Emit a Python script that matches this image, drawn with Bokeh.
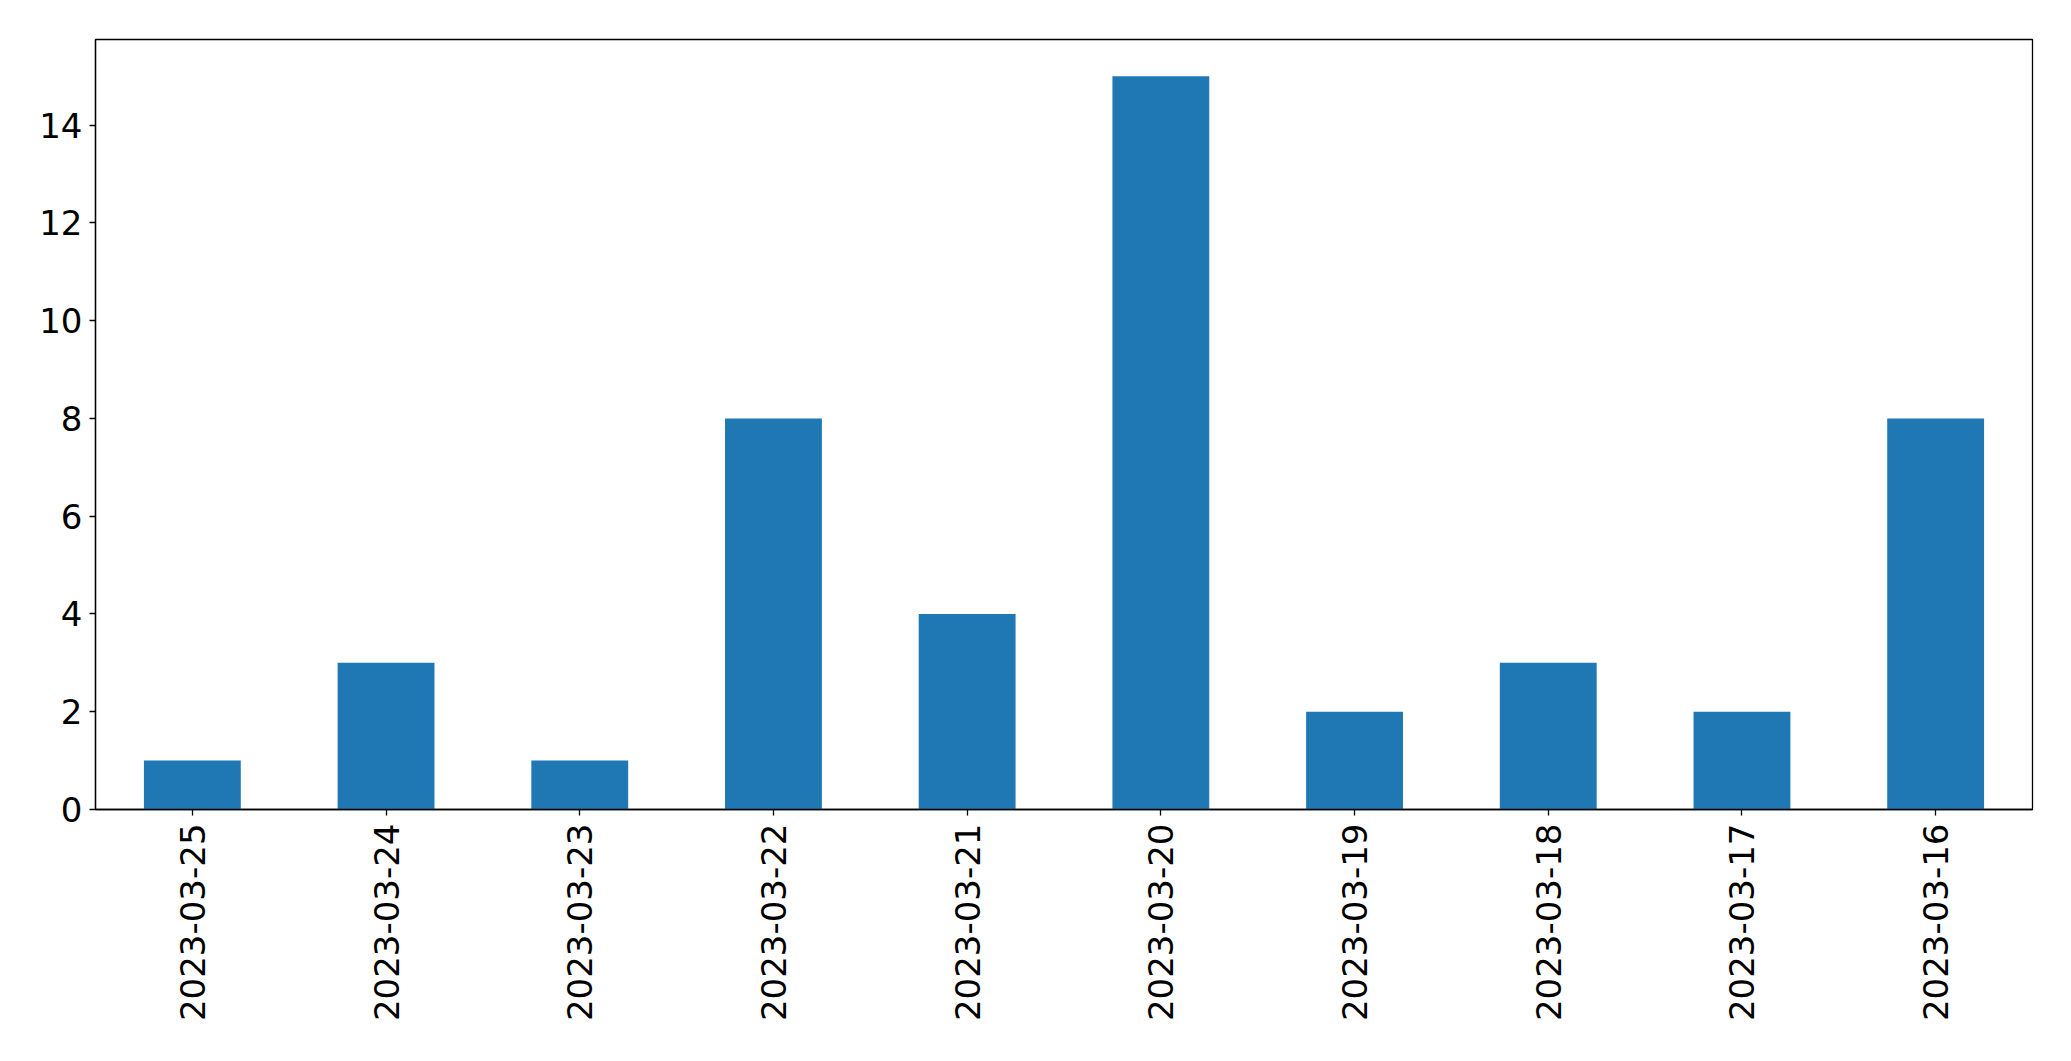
import math
from bokeh.plotting import figure
from bokeh.models import ColumnDataSource, FactorRange, Range1d, FixedTicker
from bokeh.embed import file_html
from bokeh.resources import INLINE

dates = ["2023-03-25", "2023-03-24", "2023-03-23", "2023-03-22", "2023-03-21",
         "2023-03-20", "2023-03-19", "2023-03-18", "2023-03-17", "2023-03-16"]
counts = [1, 3, 1, 8, 4, 15, 2, 3, 2, 8]
y_ticks = [0, 2, 4, 6, 8, 10, 12, 14]

source = ColumnDataSource(data=dict(date=dates, count=counts))

p = figure(x_range=FactorRange(*dates), y_range=Range1d(0, 15.75),
           width=2063, height=1053, output_backend="svg", toolbar_location=None,
           min_border_left=95, min_border_top=39, min_border_right=31, min_border_bottom=244)

p.vbar(x="date", top="count", width=0.5, source=source, color="#1f77b4", line_color=None)

p.xgrid.grid_line_color = None
p.ygrid.grid_line_color = None
p.outline_line_color = "black"
p.outline_line_width = 1.3

p.yaxis.ticker = FixedTicker(ticks=y_ticks)
for ax in (p.xaxis[0], p.yaxis[0]):
    ax.major_label_text_font = "DejaVu Sans"
    ax.major_label_text_font_size = "34px"
    ax.major_label_text_color = "black"
    ax.axis_line_color = "black"
    ax.axis_line_width = 1.3
    ax.major_tick_line_color = "black"
    ax.major_tick_line_width = 1.3
    ax.major_tick_out = 6
    ax.major_tick_in = 0
    ax.minor_tick_line_color = None
p.xaxis.major_label_orientation = math.pi / 2
p.xaxis.major_label_standoff = 8
p.yaxis.major_label_standoff = 7

open("out.html", "w").write(file_html(p, INLINE))
